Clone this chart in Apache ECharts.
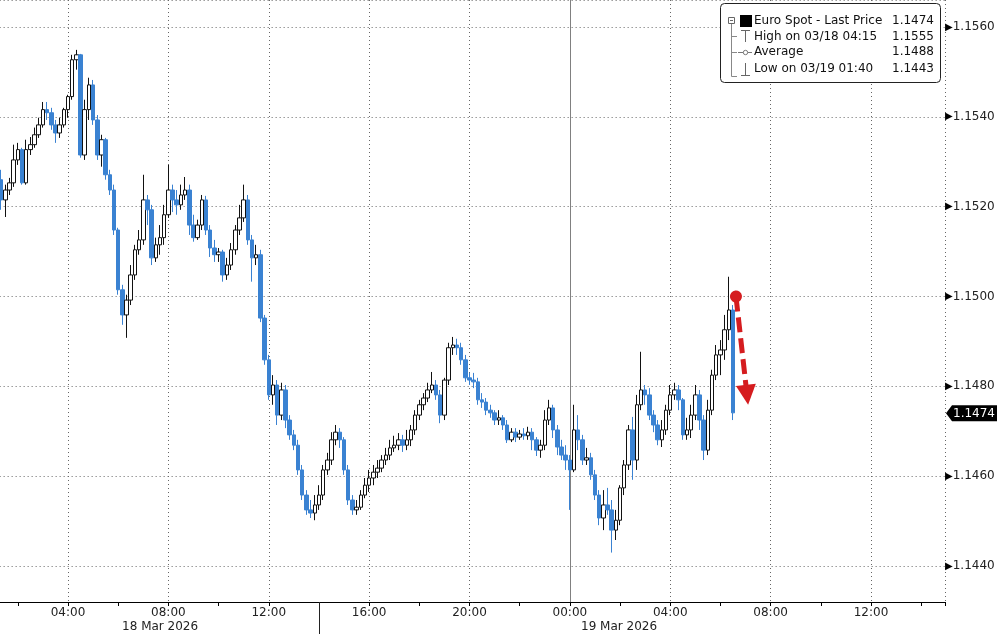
<!DOCTYPE html>
<html><head><meta charset="utf-8">
<script src="https://cdn.jsdelivr.net/npm/echarts@6/dist/echarts.min.js"></script>
<style>html,body{margin:0;padding:0;background:#fff}#c{width:997px;height:634px}</style>
</head><body><div id="c"></div>
<script>
// ---- time base (hours since 18 Mar 2026 00:00) ----
const FIRST_BAR_HOUR = 1 + 20 / 60;   // first bar 18 Mar 01:20
const BAR_MINUTES = 10;

// ---- Euro Spot 10-minute bars ----
const openP = [
1.15260,1.15215,1.15237,1.15253,1.15304,1.15327,1.15253,1.15327,1.15338,1.15360,
1.15382,1.15416,1.15409,1.15382,1.15364,1.15382,1.15416,1.15445,1.15527,1.15538,
1.15315,1.15416,1.15471,1.15393,1.15315,1.15349,1.15271,1.15237,1.15148,1.15015,
1.14959,1.14992,1.15048,1.15104,1.15126,1.15215,1.15193,1.15086,1.15115,1.15131,
1.15182,1.15237,1.15215,1.15204,1.15226,1.15237,1.15159,1.15131,1.15159,1.15215,
1.15148,1.15108,1.15093,1.15099,1.15048,1.15070,1.15104,1.15148,1.15175,1.15215,
1.15126,1.15086,1.15093,1.14952,1.14859,1.14781,1.14803,1.14736,1.14792,1.14725,
1.14692,1.14669,1.14614,1.14558,1.14525,1.14518,1.14536,1.14558,1.14614,1.14636,
1.14681,1.14698,1.14681,1.14614,1.14547,1.14525,1.14531,1.14558,1.14580,1.14596,
1.14609,1.14618,1.14636,1.14647,1.14663,1.14669,1.14681,1.14669,1.14681,1.14703,
1.14736,1.14759,1.14774,1.14792,1.14803,1.14781,1.14736,1.14814,1.14886,1.14892,
1.14886,1.14859,1.14819,1.14814,1.14810,1.14770,1.14765,1.14747,1.14741,1.14725,
1.14730,1.14714,1.14681,1.14698,1.14687,1.14694,1.14690,1.14698,1.14681,1.14658,
1.14669,1.14725,1.14752,1.14703,1.14665,1.14647,1.14636,1.14614,1.14703,1.14681,
1.14636,1.14641,1.14603,1.14558,1.14507,1.14536,1.14525,1.14480,1.14502,1.14574,
1.14625,1.14703,1.14636,1.14759,1.14792,1.14781,1.14736,1.14714,1.14681,1.14703,
1.14747,1.14781,1.14792,1.14770,1.14692,1.14703,1.14736,1.14781,1.14725,1.14658,
1.14747,1.14825,1.14870,1.14881,1.14926,1.14970
];
const closeP = [
1.15215,1.15237,1.15253,1.15304,1.15327,1.15253,1.15327,1.15338,1.15360,1.15382,
1.15416,1.15409,1.15382,1.15364,1.15382,1.15416,1.15445,1.15527,1.15538,1.15315,
1.15416,1.15471,1.15393,1.15315,1.15349,1.15271,1.15237,1.15148,1.15015,1.14959,
1.14992,1.15048,1.15104,1.15126,1.15215,1.15193,1.15086,1.15115,1.15131,1.15182,
1.15237,1.15215,1.15204,1.15226,1.15237,1.15159,1.15131,1.15159,1.15215,1.15148,
1.15108,1.15093,1.15099,1.15048,1.15070,1.15104,1.15148,1.15175,1.15215,1.15126,
1.15086,1.15093,1.14952,1.14859,1.14781,1.14803,1.14736,1.14792,1.14725,1.14692,
1.14669,1.14614,1.14558,1.14525,1.14518,1.14536,1.14558,1.14614,1.14636,1.14681,
1.14698,1.14681,1.14614,1.14547,1.14525,1.14531,1.14558,1.14580,1.14596,1.14609,
1.14618,1.14636,1.14647,1.14663,1.14669,1.14681,1.14669,1.14681,1.14703,1.14736,
1.14759,1.14774,1.14792,1.14803,1.14781,1.14736,1.14814,1.14886,1.14892,1.14886,
1.14859,1.14819,1.14814,1.14810,1.14770,1.14765,1.14747,1.14741,1.14725,1.14730,
1.14714,1.14681,1.14698,1.14687,1.14694,1.14690,1.14698,1.14681,1.14658,1.14669,
1.14725,1.14752,1.14703,1.14665,1.14647,1.14636,1.14614,1.14703,1.14681,1.14636,
1.14641,1.14603,1.14558,1.14507,1.14536,1.14525,1.14480,1.14502,1.14574,1.14625,
1.14703,1.14636,1.14759,1.14792,1.14781,1.14736,1.14714,1.14681,1.14703,1.14747,
1.14781,1.14792,1.14770,1.14692,1.14703,1.14736,1.14781,1.14725,1.14658,1.14747,
1.14825,1.14870,1.14881,1.14926,1.14970,1.14741
];
const highP = [
1.15282,1.15249,1.15264,1.15338,1.15342,1.15331,1.15349,1.15355,1.15376,1.15398,
1.15433,1.15433,1.15420,1.15393,1.15398,1.15420,1.15449,1.15538,1.15549,1.15540,
1.15438,1.15487,1.15482,1.15404,1.15360,1.15353,1.15282,1.15249,1.15153,1.15026,
1.15004,1.15070,1.15115,1.15148,1.15271,1.15226,1.15204,1.15131,1.15159,1.15204,
1.15293,1.15249,1.15237,1.15249,1.15266,1.15249,1.15182,1.15171,1.15226,1.15224,
1.15159,1.15126,1.15108,1.15104,1.15086,1.15119,1.15159,1.15204,1.15249,1.15226,
1.15137,1.15115,1.15104,1.14959,1.14870,1.14825,1.14814,1.14808,1.14803,1.14736,
1.14703,1.14681,1.14625,1.14569,1.14547,1.14558,1.14580,1.14625,1.14652,1.14698,
1.14714,1.14707,1.14687,1.14625,1.14558,1.14547,1.14569,1.14596,1.14614,1.14625,
1.14636,1.14647,1.14663,1.14681,1.14690,1.14696,1.14692,1.14703,1.14714,1.14747,
1.14770,1.14785,1.14808,1.14832,1.14814,1.14792,1.14819,1.14897,1.14910,1.14906,
1.14897,1.14870,1.14830,1.14830,1.14819,1.14785,1.14774,1.14759,1.14747,1.14747,
1.14736,1.14725,1.14707,1.14707,1.14703,1.14707,1.14710,1.14707,1.14687,1.14681,
1.14747,1.14770,1.14759,1.14714,1.14681,1.14669,1.14647,1.14759,1.14736,1.14692,
1.14663,1.14652,1.14614,1.14569,1.14569,1.14574,1.14547,1.14525,1.14580,1.14636,
1.14714,1.14732,1.14781,1.14877,1.14803,1.14796,1.14747,1.14725,1.14725,1.14759,
1.14803,1.14808,1.14803,1.14774,1.14730,1.14759,1.14803,1.14792,1.14736,1.14770,
1.14837,1.14892,1.14903,1.14959,1.15044,1.14981
];
const lowP = [
1.15193,1.15177,1.15226,1.15244,1.15293,1.15249,1.15249,1.15315,1.15331,1.15353,
1.15376,1.15393,1.15371,1.15342,1.15353,1.15376,1.15398,1.15438,1.15505,1.15309,
1.15304,1.15393,1.15382,1.15304,1.15289,1.15260,1.15226,1.15137,1.15004,1.14937,
1.14908,1.14981,1.15037,1.15093,1.15115,1.15159,1.15070,1.15077,1.15093,1.15115,
1.15175,1.15188,1.15182,1.15193,1.15215,1.15137,1.15122,1.15126,1.15148,1.15137,
1.15088,1.15077,1.15077,1.15033,1.15037,1.15059,1.15093,1.15137,1.15166,1.15115,
1.15033,1.15070,1.14943,1.14848,1.14770,1.14759,1.14714,1.14725,1.14707,1.14681,
1.14658,1.14603,1.14547,1.14514,1.14507,1.14502,1.14525,1.14547,1.14603,1.14625,
1.14669,1.14663,1.14603,1.14536,1.14514,1.14514,1.14525,1.14551,1.14565,1.14580,
1.14596,1.14609,1.14625,1.14636,1.14654,1.14658,1.14654,1.14658,1.14667,1.14692,
1.14725,1.14747,1.14765,1.14785,1.14770,1.14718,1.14725,1.14803,1.14870,1.14870,
1.14848,1.14810,1.14803,1.14796,1.14759,1.14752,1.14736,1.14730,1.14714,1.14714,
1.14703,1.14674,1.14676,1.14676,1.14681,1.14681,1.14681,1.14658,1.14645,1.14641,
1.14658,1.14714,1.14685,1.14647,1.14636,1.14614,1.14525,1.14609,1.14658,1.14625,
1.14625,1.14592,1.14547,1.14491,1.14480,1.14514,1.14430,1.14458,1.14491,1.14558,
1.14614,1.14592,1.14614,1.14747,1.14759,1.14725,1.14698,1.14669,1.14665,1.14692,
1.14736,1.14770,1.14747,1.14681,1.14681,1.14685,1.14725,1.14703,1.14636,1.14647,
1.14736,1.14814,1.14825,1.14859,1.14903,1.14725
];

// ---- texts ----
const legendLabels = ['Euro Spot - Last Price', 'High on 03/18 04:15', 'Average', 'Low on 03/19 01:40'];
const legendValues = ['1.1474', '1.1555', '1.1488', '1.1443'];
const lastPrice = 1.1474;
const dateLabels = [{ hour: 7.67, text: '18 Mar 2026' }, { hour: 25.96, text: '19 Mar 2026' }];
const daySplitHour = 24;      // 19 Mar 00:00
const lowerSplitHour = 14;    // separator under the axis
// annotation arrow (hour, price)
const arrowFrom = [30.62, 1.1500];
const arrowTo = [31.06, 1.14781];

const FONT = 'DejaVu Sans';
const data = openP.map((o, i) => [FIRST_BAR_HOUR + i * BAR_MINUTES / 60, o, closeP[i], lowP[i], highP[i]]);

const chart = echarts.init(document.getElementById('c'));
const hourFmt = v => {
  if (Math.abs(v - Math.round(v)) > 1e-6) return '';
  const h = ((Math.round(v) % 24) + 24) % 24;
  return (h < 10 ? '0' : '') + h + ':00';
};

chart.setOption({
  animation: false,
  backgroundColor: '#ffffff',
  grid: { left: -32.36, right: 52, top: 0, bottom: 32, outerBoundsMode: 'none', containLabel: false },
  xAxis: {
    type: 'value', min: 0, max: 38.95, interval: 4,
    axisLine: { show: true, onZero: false, lineStyle: { color: '#000', width: 1 } },
    axisTick: { show: true, length: 4, lineStyle: { color: '#000' } },
    minorTick: { show: true, splitNumber: 2, length: 4, lineStyle: { color: '#000' } },
    axisLabel: { color: '#222', fontSize: 12, fontFamily: FONT, margin: 5, showMaxLabel: false, formatter: hourFmt },
    splitLine: { show: true, lineStyle: { color: '#666', type: [1, 3], width: 1 } },
    minorSplitLine: { show: false }
  },
  yAxis: {
    type: 'value', position: 'right', min: 1.1432, max: 1.1566, splitNumber: 7,
    axisLine: { show: true, lineStyle: { color: '#000', width: 1 } },
    axisTick: { show: false },
    minorTick: { show: true, splitNumber: 2, length: 5, lineStyle: { color: '#000' } },
    axisLabel: {
      showMinLabel: false, showMaxLabel: false, margin: 0,
      formatter: v => '{t|▶}{v|' + v.toFixed(4) + '}',
      rich: {
        t: { fontSize: 10, color: '#000', fontFamily: FONT },
        v: { fontSize: 12, color: '#222', fontFamily: FONT, padding: [0, 0, 0, 0] }
      }
    },
    splitLine: { show: true, lineStyle: { color: '#666', type: [1, 3], width: 1 } }
  },
  series: [{
    type: 'candlestick',
    data: data,
    barWidth: 4,
    z: 3,
    itemStyle: { color: '#ffffff', color0: '#3a82d2', borderColor: '#111', borderColor0: '#3a82d2', borderWidth: 1 },
    markLine: {
      silent: true, animation: false,
      symbol: ['none', 'none'],
      data: [
        [
          { coord: arrowFrom, symbol: 'circle', symbolSize: 12,
            lineStyle: { color: '#d51c1f', width: 5, type: [15, 6] }, label: { show: false } },
          { coord: arrowTo, symbol: 'triangle', symbolSize: [20, 20] }
        ]
      ]
    }
  }]
});

// ---- annotations, legend box and date labels ----
const px = h => chart.convertToPixel({ xAxisIndex: 0 }, h);
const py = p => chart.convertToPixel({ yAxisIndex: 0 }, p);
const g = [];
// day separator through the plot
const dx = Math.round(px(daySplitHour)) + 0.5;
const y0 = py(1.1566), y1 = py(1.1432);
g.push({ type: 'line', z: 2, shape: { x1: dx, y1: y0, x2: dx, y2: y1 }, style: { stroke: '#808080', lineWidth: 1 } });
// last price tag on the axis
const ly = py(lastPrice);
const ax = px(38.95);
g.push({ type: 'polygon', z: 110, shape: { points: [[ax + 1, ly], [ax + 7, ly - 8], [997, ly - 8], [997, ly + 8], [ax + 7, ly + 8]] }, style: { fill: '#000' } });
g.push({ type: 'text', z: 111, style: { text: lastPrice.toFixed(4), x: ax + 8, y: ly + 0.5, fill: '#fff', font: '12px "' + FONT + '"', verticalAlign: 'middle', align: 'left' } });

const rowY = [21, 36.5, 52, 68.5];
g.push({ type: 'rect', z: 100, shape: { x: 720.5, y: 3.5, width: 220, height: 79, r: 4 }, style: { fill: '#fff', stroke: '#222', lineWidth: 1 } });
// tree lines
g.push({ type: 'polyline', z: 101, shape: { points: [[731.5, 24], [731.5, 76.5], [737, 76.5]] }, style: { fill: 'none', stroke: '#888', lineWidth: 1 } });
g.push({ type: 'line', z: 101, shape: { x1: 731.5, y1: 36.5, x2: 737, y2: 36.5 }, style: { stroke: '#888', lineWidth: 1 } });
g.push({ type: 'line', z: 101, shape: { x1: 731.5, y1: 52.5, x2: 737, y2: 52.5 }, style: { stroke: '#888', lineWidth: 1 } });
g.push({ type: 'rect', z: 102, shape: { x: 728.5, y: 17.5, width: 6, height: 6 }, style: { fill: '#fff', stroke: '#666', lineWidth: 1 } });
g.push({ type: 'line', z: 103, shape: { x1: 730, y1: 20.5, x2: 733, y2: 20.5 }, style: { stroke: '#666', lineWidth: 1 } });
// icons
g.push({ type: 'rect', z: 101, shape: { x: 740, y: 15, width: 12, height: 12 }, style: { fill: '#000' } });
g.push({ type: 'line', z: 101, shape: { x1: 741, y1: 30.5, x2: 750, y2: 30.5 }, style: { stroke: '#666', lineWidth: 1 } });
g.push({ type: 'line', z: 101, shape: { x1: 745.5, y1: 30.5, x2: 745.5, y2: 42 }, style: { stroke: '#666', lineWidth: 1 } });
g.push({ type: 'line', z: 101, shape: { x1: 738, y1: 52.5, x2: 752, y2: 52.5 }, style: { stroke: '#777', lineWidth: 1 } });
g.push({ type: 'circle', z: 102, shape: { cx: 745.5, cy: 52.5, r: 2.2 }, style: { fill: '#fff', stroke: '#777', lineWidth: 1 } });
g.push({ type: 'line', z: 101, shape: { x1: 745.5, y1: 63, x2: 745.5, y2: 75.5 }, style: { stroke: '#666', lineWidth: 1 } });
g.push({ type: 'line', z: 101, shape: { x1: 741, y1: 75.5, x2: 750, y2: 75.5 }, style: { stroke: '#666', lineWidth: 1 } });
legendLabels.forEach((t, i) => {
  g.push({ type: 'text', z: 103, style: { text: t, x: 754, y: rowY[i], fill: '#111', font: '12px "' + FONT + '"', verticalAlign: 'middle', align: 'left' } });
  g.push({ type: 'text', z: 103, style: { text: legendValues[i], x: 934, y: rowY[i], fill: '#111', font: '12px "' + FONT + '"', verticalAlign: 'middle', align: 'right' } });
});
dateLabels.forEach(d => {
  g.push({ type: 'text', z: 103, style: { text: d.text, x: px(d.hour), y: 627, fill: '#222', font: '12px "' + FONT + '"', verticalAlign: 'middle', align: 'center' } });
});
const sx = Math.round(px(lowerSplitHour)) + 0.5;
g.push({ type: 'line', z: 103, shape: { x1: sx, y1: y1, x2: sx, y2: 634 }, style: { stroke: '#222', lineWidth: 1 } });
chart.setOption({ graphic: g });
</script></body></html>
